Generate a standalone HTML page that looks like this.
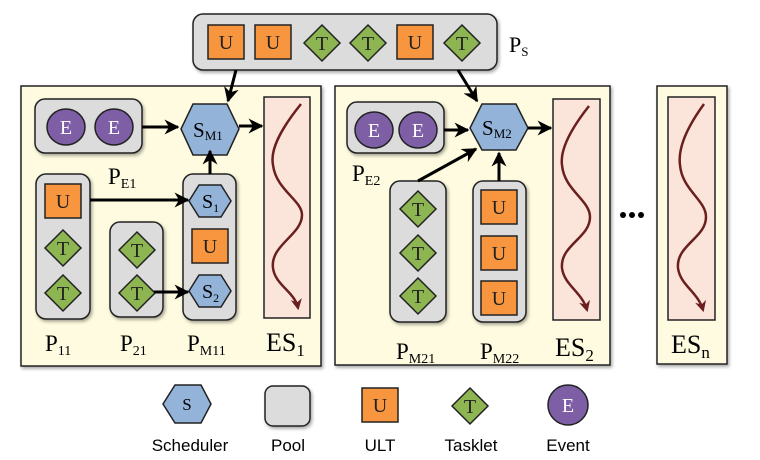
<!DOCTYPE html>
<html><head><meta charset="utf-8">
<style>
html,body{margin:0;padding:0;background:#fff;}
svg{display:block;}
</style></head>
<body>
<svg width="760" height="460" viewBox="0 0 760 460" xmlns="http://www.w3.org/2000/svg" font-family="'Liberation Serif', serif">
<defs>
<filter id="sh" x="-10%" y="-10%" width="130%" height="130%"><feDropShadow dx="1.5" dy="2" stdDeviation="1.5" flood-color="#000" flood-opacity="0.35"/></filter>
<marker id="ar" viewBox="0 0 10 10" refX="9" refY="5" markerWidth="5" markerHeight="5" orient="auto"><path d="M0,0 L10,5 L0,10 L3,5 Z" fill="#000"/></marker>
<marker id="wr" viewBox="0 0 10 10" refX="8" refY="5" markerWidth="4.5" markerHeight="4.5" orient="auto"><path d="M0,0 L10,5 L0,10 L3,5 Z" fill="#6b1f1f"/></marker>
<g id="U"><rect x="-18" y="-17" width="36" height="34" fill="#f7963e" stroke="#222" stroke-width="1.5"/><text font-family="'Liberation Serif', serif" x="0" y="7" font-size="20" text-anchor="middle" fill="#222">U</text></g>
<g id="T"><path d="M0,-18 L18,0 L0,18 L-18,0 Z" fill="#8db552" stroke="#222" stroke-width="1.5"/><text font-family="'Liberation Serif', serif" x="0" y="7" font-size="20" text-anchor="middle" fill="#222">T</text></g>
<g id="E"><ellipse cx="0" cy="0" rx="19" ry="18" fill="#7e5fa6" stroke="#222" stroke-width="1.5"/><text font-family="'Liberation Serif', serif" x="0" y="7" font-size="20" text-anchor="middle" fill="#fff">E</text></g>
</defs>

<!-- PS pool -->
<g>
<rect x="193" y="14" width="304" height="56" rx="10" fill="#dcdcdc" stroke="#222" stroke-width="1.5" filter="url(#sh)"/>
<use href="#U" x="226" y="42"/><use href="#U" x="273" y="42"/>
<use href="#T" x="322" y="43"/><use href="#T" x="368" y="43"/>
<use href="#U" x="415" y="42"/><use href="#T" x="462" y="43"/>
</g>
<text x="509" y="52" font-size="22">P<tspan font-size="13" dy="4">S</tspan></text>

<!-- ES1 -->
<g>
<rect x="21" y="86" width="300" height="280" fill="#fefbe0" stroke="#222" stroke-width="1.5" filter="url(#sh)"/>
<rect x="264" y="97" width="46" height="221" fill="#fbe5da" stroke="#222" stroke-width="1.5"/>
<path d="M301,104 C280,130 270,150 273,165 C276,190 302,200 302,215 C302,235 270,245 273,268 C275,285 295,292 298,308" fill="none" stroke="#6b1f1f" stroke-width="2.5" marker-end="url(#wr)"/>
</g>
<g>
<rect x="35" y="99" width="107" height="54" rx="10" fill="#dcdcdc" stroke="#222" stroke-width="1.5" filter="url(#sh)"/>
<use href="#E" x="66" y="127"/><use href="#E" x="114" y="127"/>
</g>
<g>
<rect x="36" y="174" width="54" height="145" rx="10" fill="#dcdcdc" stroke="#222" stroke-width="1.5" filter="url(#sh)"/>
<use href="#U" x="63" y="201"/><use href="#T" x="63" y="248"/><use href="#T" x="63" y="293"/>
</g>
<g>
<rect x="110" y="222" width="53" height="95" rx="10" fill="#dcdcdc" stroke="#222" stroke-width="1.5" filter="url(#sh)"/>
<use href="#T" x="137" y="250"/><use href="#T" x="137" y="293"/>
</g>
<g>
<rect x="183" y="174" width="53" height="146" rx="10" fill="#dcdcdc" stroke="#222" stroke-width="1.5" filter="url(#sh)"/>
<path d="M199,185 L221,185 L231,201 L221,217 L199,217 L189,201 Z" fill="#93b3d9" stroke="#222" stroke-width="1.5"/>
<text x="202" y="208" font-size="20">S<tspan font-size="12" dy="4">1</tspan></text>
<use href="#U" x="210" y="246"/>
<path d="M199,275 L221,275 L231,291 L221,307 L199,307 L189,291 Z" fill="#93b3d9" stroke="#222" stroke-width="1.5"/>
<text x="202" y="298" font-size="20">S<tspan font-size="12" dy="4">2</tspan></text>
</g>
<g>
<path d="M193,104 L227,104 L239,129 L227,155 L193,155 L181,129 Z" fill="#93b3d9" stroke="#222" stroke-width="1.5"/>
<text x="193" y="137" font-size="21">S<tspan font-size="13" dy="3">M1</tspan></text>
</g>
<g stroke="#000" stroke-width="3" fill="none">
<line x1="236" y1="70" x2="228" y2="101" marker-end="url(#ar)"/>
<line x1="142" y1="127" x2="178" y2="127" marker-end="url(#ar)"/>
<line x1="239" y1="126" x2="262" y2="126" marker-end="url(#ar)"/>
<line x1="210" y1="174" x2="210" y2="151" marker-end="url(#ar)"/>
<line x1="90" y1="200" x2="188" y2="200" marker-end="url(#ar)"/>
<line x1="154" y1="292" x2="188" y2="292" marker-end="url(#ar)"/>
</g>
<text x="108" y="184" font-size="23">P<tspan font-size="14" dy="4">E1</tspan></text>
<text x="45" y="351" font-size="23">P<tspan font-size="14" dy="4">11</tspan></text>
<text x="120" y="351" font-size="23">P<tspan font-size="14" dy="4">21</tspan></text>
<text x="187" y="351" font-size="23">P<tspan font-size="14" dy="4">M11</tspan></text>
<text x="266" y="351" font-size="26">ES<tspan font-size="17" dy="5">1</tspan></text>

<!-- ES2 -->
<g>
<rect x="335" y="86" width="275" height="279" fill="#fefbe0" stroke="#222" stroke-width="1.5" filter="url(#sh)"/>
<rect x="553" y="99" width="47" height="221" fill="#fbe5da" stroke="#222" stroke-width="1.5"/>
<path d="M589,106 C570,130 560,150 562,165 C564,190 590,200 590,217 C590,238 560,245 562,268 C564,285 582,292 587,310" fill="none" stroke="#6b1f1f" stroke-width="2.5" marker-end="url(#wr)"/>
</g>
<g>
<rect x="347" y="102" width="97" height="51" rx="10" fill="#dcdcdc" stroke="#222" stroke-width="1.5" filter="url(#sh)"/>
<use href="#E" x="374" y="130"/><use href="#E" x="418" y="130"/>
</g>
<g>
<rect x="390" y="181" width="56" height="141" rx="10" fill="#dcdcdc" stroke="#222" stroke-width="1.5" filter="url(#sh)"/>
<use href="#T" x="418" y="209"/><use href="#T" x="418" y="253"/><use href="#T" x="418" y="296"/>
</g>
<g>
<rect x="473" y="181" width="53" height="141" rx="10" fill="#dcdcdc" stroke="#222" stroke-width="1.5" filter="url(#sh)"/>
<use href="#U" x="499" y="207"/><use href="#U" x="499" y="253"/><use href="#U" x="499" y="298"/>
</g>
<g>
<path d="M482,104 L516,104 L528,128 L516,150 L482,150 L470,128 Z" fill="#93b3d9" stroke="#222" stroke-width="1.5"/>
<text x="482" y="135" font-size="21">S<tspan font-size="13" dy="3">M2</tspan></text>
</g>
<g stroke="#000" stroke-width="3" fill="none">
<line x1="458" y1="70" x2="477" y2="101" marker-end="url(#ar)"/>
<line x1="444" y1="130" x2="468" y2="130" marker-end="url(#ar)"/>
<line x1="528" y1="128" x2="551" y2="128" marker-end="url(#ar)"/>
<line x1="418" y1="181" x2="476" y2="149" marker-end="url(#ar)"/>
<line x1="499" y1="181" x2="499" y2="153" marker-end="url(#ar)"/>
</g>
<text x="352" y="181" font-size="23">P<tspan font-size="14" dy="4">E2</tspan></text>
<text x="396" y="359" font-size="23">P<tspan font-size="14" dy="4">M21</tspan></text>
<text x="480" y="359" font-size="23">P<tspan font-size="14" dy="4">M22</tspan></text>
<text x="555" y="356" font-size="26">ES<tspan font-size="17" dy="5">2</tspan></text>

<g fill="#000">
<circle cx="623" cy="215" r="3"/><circle cx="632" cy="215" r="3"/><circle cx="641" cy="215" r="3"/>
</g>

<!-- ESn -->
<g>
<rect x="657" y="86" width="70" height="278" fill="#fefbe0" stroke="#222" stroke-width="1.5" filter="url(#sh)"/>
<rect x="668" y="97" width="47" height="223" fill="#fbe5da" stroke="#222" stroke-width="1.5"/>
<path d="M704,104 C685,130 678,150 680,165 C682,190 706,200 706,217 C706,238 676,245 678,268 C680,285 698,292 703,310" fill="none" stroke="#6b1f1f" stroke-width="2.5" marker-end="url(#wr)"/>
</g>
<text x="671" y="353" font-size="26">ES<tspan font-size="17" dy="5">n</tspan></text>

<!-- Legend -->
<g>
<path d="M175,385 L201,385 L211,404 L201,423 L175,423 L163,404 Z" fill="#93b3d9" stroke="#222" stroke-width="1.5"/>
<text x="187" y="410" font-size="17" text-anchor="middle">S</text>
<text font-family="'Liberation Sans', sans-serif" x="190" y="451" font-size="17" text-anchor="middle">Scheduler</text>
</g>
<g>
<rect x="265" y="386" width="45" height="40" rx="8" fill="#dcdcdc" stroke="#222" stroke-width="1.5" filter="url(#sh)"/>
<text font-family="'Liberation Sans', sans-serif" x="288" y="451" font-size="17" text-anchor="middle">Pool</text>
</g>
<g>
<use href="#U" x="380" y="405"/>
<text font-family="'Liberation Sans', sans-serif" x="380" y="451" font-size="17" text-anchor="middle">ULT</text>
</g>
<g>
<use href="#T" x="470" y="406"/>
<text font-family="'Liberation Sans', sans-serif" x="471" y="451" font-size="17" text-anchor="middle">Tasklet</text>
</g>
<g>
<circle cx="568" cy="405" r="20" fill="#7e5fa6" stroke="#222" stroke-width="1.5"/>
<text x="568" y="412" font-size="20" text-anchor="middle" fill="#fff">E</text>
<text font-family="'Liberation Sans', sans-serif" x="568" y="451" font-size="17" text-anchor="middle">Event</text>
</g>
</svg>
</body></html>
